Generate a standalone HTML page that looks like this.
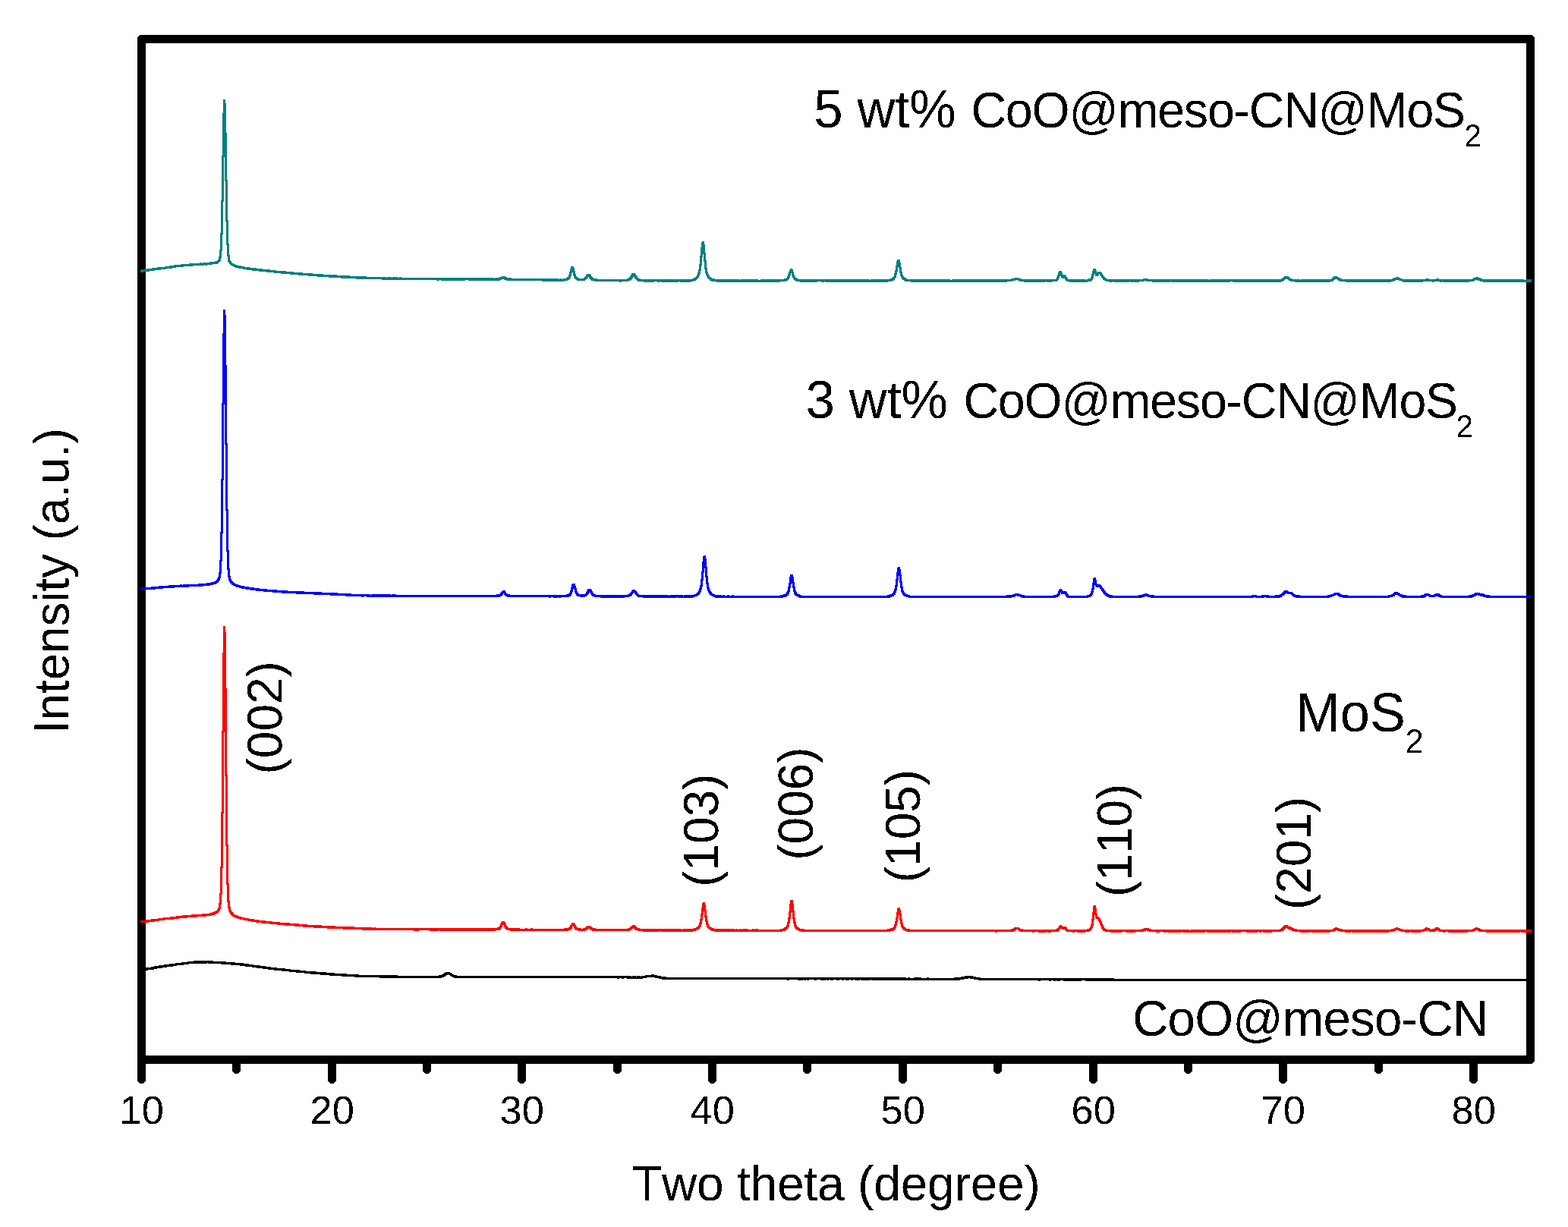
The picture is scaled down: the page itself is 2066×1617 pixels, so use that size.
<!DOCTYPE html>
<html lang="en">
<head>
<meta charset="utf-8">
<title>XRD patterns</title>
<style>
html,body{margin:0;padding:0;background:#fff;}
body{width:2066px;height:1617px;overflow:hidden;}
svg{display:block;}
text{font-family:"Liberation Sans", Arial, Helvetica, sans-serif;fill:#000;font-kerning:none;font-variant-ligatures:none;white-space:pre;}
</style>
</head>
<body>
<svg width="2066" height="1617" viewBox="0 0 2066 1617" role="img" aria-label="XRD patterns of CoO@meso-CN, MoS2 and CoO@meso-CN@MoS2 composites">
<defs>
<filter id="alias" filterUnits="userSpaceOnUse" x="0" y="0" width="2066" height="1617" color-interpolation-filters="sRGB">
<feComponentTransfer><feFuncA type="discrete" tableValues="0 1"/></feComponentTransfer>
</filter>
</defs>
<rect x="0" y="0" width="2066" height="1617" fill="#fff"/>

<g id="frame" fill="none" stroke="#000" stroke-width="11.0" stroke-linecap="round" stroke-linejoin="round">
<rect x="186.5" y="51.5" width="1830.0" height="1345.0" shape-rendering="crispEdges"/>
<line x1="186.5" y1="1396.5" x2="186.5" y2="1422.5" shape-rendering="crispEdges"/>
<line x1="311.5" y1="1396.5" x2="311.5" y2="1409.5" shape-rendering="crispEdges"/>
<line x1="437.5" y1="1396.5" x2="437.5" y2="1422.5" shape-rendering="crispEdges"/>
<line x1="562.5" y1="1396.5" x2="562.5" y2="1409.5" shape-rendering="crispEdges"/>
<line x1="687.5" y1="1396.5" x2="687.5" y2="1422.5" shape-rendering="crispEdges"/>
<line x1="813.5" y1="1396.5" x2="813.5" y2="1409.5" shape-rendering="crispEdges"/>
<line x1="938.5" y1="1396.5" x2="938.5" y2="1422.5" shape-rendering="crispEdges"/>
<line x1="1063.5" y1="1396.5" x2="1063.5" y2="1409.5" shape-rendering="crispEdges"/>
<line x1="1189.5" y1="1396.5" x2="1189.5" y2="1422.5" shape-rendering="crispEdges"/>
<line x1="1314.5" y1="1396.5" x2="1314.5" y2="1409.5" shape-rendering="crispEdges"/>
<line x1="1440.5" y1="1396.5" x2="1440.5" y2="1422.5" shape-rendering="crispEdges"/>
<line x1="1565.5" y1="1396.5" x2="1565.5" y2="1409.5" shape-rendering="crispEdges"/>
<line x1="1690.5" y1="1396.5" x2="1690.5" y2="1422.5" shape-rendering="crispEdges"/>
<line x1="1816.5" y1="1396.5" x2="1816.5" y2="1409.5" shape-rendering="crispEdges"/>
<line x1="1941.5" y1="1396.5" x2="1941.5" y2="1422.5" shape-rendering="crispEdges"/>
</g>
<g id="curves" stroke="none" shape-rendering="crispEdges">
<path fill="#000000" d="M185 1277h1v3h-1zM186 1276h4v4h-4zM190 1276h2v3h-2zM192 1275h3v4h-3zM195 1275h4v3h-4zM199 1274h4v4h-4zM203 1273h4v4h-4zM207 1273h2v3h-2zM209 1272h5v4h-5zM214 1272h2v3h-2zM216 1271h4v4h-4zM220 1271h3v3h-3zM223 1270h5v4h-5zM228 1270h3v3h-3zM231 1269h2v4h-2zM233 1269h6v3h-6zM239 1268h3v4h-3zM242 1268h5v3h-5zM247 1267h2v4h-2zM249 1267h6v3h-6zM255 1266h18v4h-18zM273 1266h1v3h-1zM274 1266h7v4h-7zM281 1267h10v3h-10zM291 1267h7v4h-7zM298 1268h6v3h-6zM304 1268h6v4h-6zM310 1269h6v3h-6zM316 1269h5v4h-5zM321 1270h2v3h-2zM323 1270h5v4h-5zM328 1271h4v3h-4zM332 1271h2v4h-2zM334 1272h4v3h-4zM338 1272h5v4h-5zM343 1273h3v3h-3zM346 1273h4v4h-4zM350 1274h3v3h-3zM353 1274h4v4h-4zM357 1275h4v3h-4zM361 1275h4v4h-4zM365 1276h6v3h-6zM371 1276h5v4h-5zM376 1277h5v3h-5zM381 1277h2v4h-2zM383 1278h7v3h-7zM390 1278h5v4h-5zM395 1279h6v3h-6zM401 1279h2v4h-2zM403 1280h6v3h-6zM409 1280h8v4h-8zM417 1281h5v3h-5zM422 1281h8v4h-8zM430 1282h4v3h-4zM434 1282h7v4h-7zM441 1283h9v3h-9zM450 1283h7v4h-7zM457 1284h10v3h-10zM467 1284h6v4h-6zM473 1285h27v3h-27zM500 1285h24v4h-24zM524 1286h54v3h-54zM578 1285h4v4h-4zM582 1284h2v4h-2zM584 1283h1v5h-1zM585 1282h2v5h-2zM587 1281h1v5h-1zM588 1281h2v4h-2zM590 1281h1v3h-1zM591 1281h2v4h-2zM593 1282h1v4h-1zM594 1282h1v5h-1zM595 1283h1v4h-1zM596 1284h2v4h-2zM598 1285h4v4h-4zM602 1286h211v3h-211zM813 1286h3v4h-3zM816 1286h3v3h-3zM819 1286h3v4h-3zM822 1286h4v3h-4zM826 1286h6v4h-6zM832 1287h1v3h-1zM833 1286h5v4h-5zM838 1287h1v3h-1zM839 1286h5v4h-5zM844 1287h1v3h-1zM845 1286h2v4h-2zM847 1286h3v3h-3zM850 1285h2v4h-2zM852 1285h6v3h-6zM858 1284h4v4h-4zM862 1285h1v3h-1zM863 1285h3v4h-3zM866 1286h2v3h-2zM868 1286h3v4h-3zM871 1287h1v3h-1zM872 1287h6v4h-6zM878 1288h159v3h-159zM1037 1288h3v4h-3zM1040 1288h11v3h-11zM1051 1288h7v4h-7zM1058 1288h1v3h-1zM1059 1288h3v4h-3zM1062 1288h1v3h-1zM1063 1288h3v4h-3zM1066 1288h7v3h-7zM1073 1288h3v4h-3zM1076 1288h5v3h-5zM1081 1288h7v4h-7zM1088 1288h1v3h-1zM1089 1288h3v4h-3zM1092 1288h2v3h-2zM1094 1288h4v4h-4zM1098 1288h4v3h-4zM1102 1288h4v4h-4zM1106 1288h3v3h-3zM1109 1288h3v4h-3zM1112 1288h2v3h-2zM1114 1288h5v4h-5zM1119 1288h2v3h-2zM1121 1288h3v4h-3zM1124 1288h2v3h-2zM1126 1288h7v4h-7zM1133 1288h1v3h-1zM1134 1288h13v4h-13zM1147 1288h1v3h-1zM1148 1288h46v4h-46zM1194 1289h2v3h-2zM1196 1288h3v4h-3zM1199 1289h5v3h-5zM1204 1288h10v4h-10zM1214 1289h7v3h-7zM1221 1288h3v4h-3zM1224 1289h33v3h-33zM1257 1288h8v4h-8zM1265 1288h1v3h-1zM1266 1287h4v4h-4zM1270 1287h1v3h-1zM1271 1286h5v4h-5zM1276 1286h2v3h-2zM1278 1286h4v4h-4zM1282 1287h1v3h-1zM1283 1287h3v4h-3zM1286 1288h3v3h-3zM1289 1288h3v4h-3zM1292 1289h76v3h-76zM1368 1289h3v4h-3zM1371 1289h11v3h-11zM1382 1289h3v4h-3zM1385 1289h3v3h-3zM1388 1289h3v4h-3zM1391 1289h1v3h-1zM1392 1289h5v4h-5zM1397 1289h4v3h-4zM1401 1289h24v4h-24zM1425 1289h5v3h-5zM1430 1289h38v4h-38zM1468 1290h550v3h-550z"/>
<path fill="#ff0000" d="M185 1213h6v3h-6zM191 1212h5v4h-5zM196 1212h3v3h-3zM199 1211h5v4h-5zM204 1211h4v3h-4zM208 1210h2v4h-2zM210 1210h5v3h-5zM215 1209h2v4h-2zM217 1209h7v3h-7zM224 1208h5v4h-5zM229 1208h3v3h-3zM232 1207h4v4h-4zM236 1207h4v3h-4zM240 1206h7v4h-7zM247 1206h5v3h-5zM252 1205h7v4h-7zM259 1205h7v3h-7zM266 1204h6v4h-6zM272 1204h4v3h-4zM276 1203h3v4h-3zM279 1202h3v4h-3zM282 1201h1v5h-1zM283 1201h1v4h-1zM284 1200h1v5h-1zM285 1200h1v4h-1zM286 1198h1v6h-1zM287 1196h1v7h-1zM288 1190h1v12h-1zM289 1177h1v23h-1zM290 1142h1v56h-1zM291 1070h1v122h-1zM292 963h1v216h-1zM293 860h1v284h-1zM294 825h1v247h-1zM295 825h1v140h-1zM296 825h1v198h-1zM297 833h1v282h-1zM298 907h1v259h-1zM299 1021h1v168h-1zM300 1113h1v84h-1zM301 1164h1v37h-1zM302 1187h1v16h-1zM303 1195h1v10h-1zM304 1199h1v7h-1zM305 1201h1v6h-1zM306 1202h1v6h-1zM307 1203h1v5h-1zM308 1205h2v4h-2zM310 1206h3v4h-3zM313 1207h2v4h-2zM315 1208h1v3h-1zM316 1208h3v4h-3zM319 1209h2v3h-2zM321 1209h2v4h-2zM323 1210h3v3h-3zM326 1210h2v4h-2zM328 1211h3v3h-3zM331 1211h4v4h-4zM335 1212h2v3h-2zM337 1212h4v4h-4zM341 1213h4v3h-4zM345 1213h5v4h-5zM350 1214h5v3h-5zM355 1214h4v4h-4zM359 1215h6v3h-6zM365 1215h4v4h-4zM369 1216h6v3h-6zM375 1216h7v4h-7zM382 1217h6v3h-6zM388 1217h6v4h-6zM394 1218h5v3h-5zM399 1218h6v4h-6zM405 1219h8v3h-8zM413 1219h11v4h-11zM424 1220h7v3h-7zM431 1220h11v4h-11zM442 1221h10v3h-10zM452 1221h15v4h-15zM467 1222h10v3h-10zM477 1222h14v4h-14zM491 1223h1v3h-1zM492 1222h3v4h-3zM495 1223h50v3h-50zM545 1223h7v4h-7zM552 1223h14v3h-14zM566 1223h12v4h-12zM578 1223h1v3h-1zM579 1223h74v4h-74zM653 1223h2v3h-2zM655 1222h2v4h-2zM657 1221h1v5h-1zM658 1220h1v6h-1zM659 1217h1v8h-1zM660 1215h1v8h-1zM661 1214h1v8h-1zM662 1214h2v5h-2zM664 1214h1v8h-1zM665 1215h1v9h-1zM666 1217h1v8h-1zM667 1220h1v5h-1zM668 1221h1v5h-1zM669 1222h1v4h-1zM670 1223h2v3h-2zM672 1223h13v4h-13zM685 1224h7v3h-7zM692 1223h3v4h-3zM695 1224h4v3h-4zM699 1223h3v4h-3zM702 1224h41v3h-41zM743 1223h6v4h-6zM749 1222h1v4h-1zM750 1221h1v5h-1zM751 1219h1v7h-1zM752 1218h1v7h-1zM753 1216h1v8h-1zM754 1216h2v5h-2zM756 1216h1v7h-1zM757 1217h1v8h-1zM758 1219h1v7h-1zM759 1221h1v5h-1zM760 1222h1v4h-1zM761 1223h1v3h-1zM762 1223h4v4h-4zM766 1224h2v3h-2zM768 1223h3v4h-3zM771 1222h1v4h-1zM772 1221h1v5h-1zM773 1220h1v6h-1zM774 1220h1v5h-1zM775 1220h2v4h-2zM777 1220h1v5h-1zM778 1221h2v5h-2zM780 1222h1v5h-1zM781 1223h4v4h-4zM785 1224h42v3h-42zM827 1223h3v4h-3zM830 1221h2v5h-2zM832 1220h1v5h-1zM833 1219h1v5h-1zM834 1219h1v4h-1zM835 1219h1v5h-1zM836 1219h1v6h-1zM837 1220h1v6h-1zM838 1221h1v5h-1zM839 1222h1v4h-1zM840 1223h3v4h-3zM843 1224h4v3h-4zM847 1224h22v4h-22zM869 1224h1v3h-1zM870 1224h28v4h-28zM898 1225h1v3h-1zM899 1224h14v4h-14zM913 1224h1v3h-1zM914 1223h3v4h-3zM917 1222h1v4h-1zM918 1221h1v5h-1zM919 1221h1v4h-1zM920 1219h1v6h-1zM921 1216h1v8h-1zM922 1211h1v12h-1zM923 1204h1v17h-1zM924 1196h1v22h-1zM925 1190h1v23h-1zM926 1189h1v17h-1zM927 1189h1v12h-1zM928 1189h1v20h-1zM929 1192h1v23h-1zM930 1199h1v20h-1zM931 1207h1v15h-1zM932 1213h1v10h-1zM933 1217h1v7h-1zM934 1220h1v5h-1zM935 1221h1v4h-1zM936 1222h1v4h-1zM937 1222h1v5h-1zM938 1223h3v4h-3zM941 1224h1v3h-1zM942 1224h26v4h-26zM968 1225h1v3h-1zM969 1224h3v4h-3zM972 1225h2v3h-2zM974 1224h3v4h-3zM977 1225h1v3h-1zM978 1224h8v4h-8zM986 1225h5v3h-5zM991 1224h3v4h-3zM994 1225h1v3h-1zM995 1224h4v4h-4zM999 1225h29v3h-29zM1028 1224h3v4h-3zM1031 1224h1v3h-1zM1032 1223h1v4h-1zM1033 1222h2v5h-2zM1035 1221h1v5h-1zM1036 1219h1v6h-1zM1037 1215h1v10h-1zM1038 1209h1v14h-1zM1039 1201h1v20h-1zM1040 1191h1v26h-1zM1041 1186h1v25h-1zM1042 1186h1v17h-1zM1043 1186h1v16h-1zM1044 1186h1v25h-1zM1045 1191h1v26h-1zM1046 1200h1v21h-1zM1047 1209h1v14h-1zM1048 1215h1v10h-1zM1049 1219h1v6h-1zM1050 1221h1v5h-1zM1051 1222h1v4h-1zM1052 1222h1v5h-1zM1053 1223h1v4h-1zM1054 1224h1v3h-1zM1055 1224h5v4h-5zM1060 1225h109v3h-109zM1169 1224h4v4h-4zM1173 1223h3v4h-3zM1176 1222h1v5h-1zM1177 1221h1v5h-1zM1178 1218h1v8h-1zM1179 1214h1v11h-1zM1180 1209h1v14h-1zM1181 1202h1v18h-1zM1182 1197h1v19h-1zM1183 1196h1v15h-1zM1184 1196h1v10h-1zM1185 1196h1v17h-1zM1186 1199h1v19h-1zM1187 1204h1v18h-1zM1188 1211h1v12h-1zM1189 1216h1v9h-1zM1190 1220h1v6h-1zM1191 1221h1v5h-1zM1192 1222h1v5h-1zM1193 1223h1v4h-1zM1194 1224h1v3h-1zM1195 1224h4v4h-4zM1199 1225h112v3h-112zM1311 1225h3v4h-3zM1314 1225h18v3h-18zM1332 1224h3v4h-3zM1335 1223h1v5h-1zM1336 1222h2v5h-2zM1338 1222h1v4h-1zM1339 1222h2v3h-2zM1341 1222h1v4h-1zM1342 1222h1v5h-1zM1343 1223h1v4h-1zM1344 1224h4v4h-4zM1348 1225h12v3h-12zM1360 1225h3v4h-3zM1363 1225h5v3h-5zM1368 1225h11v4h-11zM1379 1225h1v3h-1zM1380 1225h5v4h-5zM1385 1225h6v3h-6zM1391 1224h2v4h-2zM1393 1223h1v5h-1zM1394 1222h1v6h-1zM1395 1220h1v7h-1zM1396 1219h1v6h-1zM1397 1219h2v5h-2zM1399 1220h1v5h-1zM1400 1221h3v4h-3zM1403 1221h1v5h-1zM1404 1221h1v6h-1zM1405 1222h1v6h-1zM1406 1224h1v4h-1zM1407 1225h6v3h-6zM1413 1225h3v4h-3zM1416 1225h3v3h-3zM1419 1225h11v4h-11zM1430 1225h2v3h-2zM1432 1224h3v4h-3zM1435 1223h1v4h-1zM1436 1221h1v6h-1zM1437 1218h1v8h-1zM1438 1211h1v14h-1zM1439 1202h1v21h-1zM1440 1194h1v26h-1zM1441 1193h1v20h-1zM1442 1193h1v13h-1zM1443 1193h1v17h-1zM1444 1197h1v14h-1zM1445 1204h1v7h-1zM1446 1208h1v4h-1zM1447 1208h1v6h-1zM1448 1209h1v7h-1zM1449 1210h1v9h-1zM1450 1212h1v9h-1zM1451 1214h1v10h-1zM1452 1217h1v8h-1zM1453 1219h1v8h-1zM1454 1221h1v6h-1zM1455 1223h1v4h-1zM1456 1224h2v4h-2zM1458 1225h5v3h-5zM1463 1225h15v4h-15zM1478 1225h6v3h-6zM1484 1225h12v4h-12zM1496 1225h8v3h-8zM1504 1224h3v4h-3zM1507 1223h3v4h-3zM1510 1223h1v3h-1zM1511 1223h3v4h-3zM1514 1224h3v4h-3zM1517 1225h6v3h-6zM1523 1225h5v4h-5zM1528 1225h5v3h-5zM1533 1225h4v4h-4zM1537 1225h1v3h-1zM1538 1225h19v4h-19zM1557 1225h1v3h-1zM1558 1225h9v4h-9zM1567 1226h1v3h-1zM1568 1225h20v4h-20zM1588 1225h2v3h-2zM1590 1225h32v4h-32zM1622 1225h1v3h-1zM1623 1225h12v4h-12zM1635 1225h7v3h-7zM1642 1225h15v4h-15zM1657 1225h2v3h-2zM1659 1225h3v4h-3zM1662 1225h2v3h-2zM1664 1225h12v4h-12zM1676 1225h10v3h-10zM1686 1224h2v4h-2zM1688 1223h1v4h-1zM1689 1222h1v5h-1zM1690 1221h1v6h-1zM1691 1220h1v6h-1zM1692 1219h1v6h-1zM1693 1219h1v5h-1zM1694 1219h2v4h-2zM1696 1219h1v5h-1zM1697 1220h1v5h-1zM1698 1221h2v4h-2zM1700 1221h1v5h-1zM1701 1222h1v4h-1zM1702 1222h1v5h-1zM1703 1223h2v4h-2zM1705 1224h1v3h-1zM1706 1224h3v4h-3zM1709 1225h4v3h-4zM1713 1225h13v4h-13zM1726 1225h1v3h-1zM1727 1225h25v4h-25zM1752 1225h4v3h-4zM1756 1224h1v4h-1zM1757 1223h1v5h-1zM1758 1223h1v4h-1zM1759 1222h1v5h-1zM1760 1222h2v4h-2zM1762 1223h3v4h-3zM1765 1224h1v3h-1zM1766 1224h3v4h-3zM1769 1225h3v3h-3zM1772 1225h8v4h-8zM1780 1225h1v3h-1zM1781 1225h49v4h-49zM1830 1225h3v3h-3zM1833 1224h4v4h-4zM1837 1223h2v4h-2zM1839 1222h3v4h-3zM1842 1223h1v3h-1zM1843 1223h2v4h-2zM1845 1224h1v3h-1zM1846 1224h2v4h-2zM1848 1225h3v3h-3zM1851 1225h7v4h-7zM1858 1225h1v3h-1zM1859 1225h13v4h-13zM1872 1225h3v3h-3zM1875 1224h2v4h-2zM1877 1223h1v4h-1zM1878 1222h2v5h-2zM1880 1222h1v4h-1zM1881 1223h1v3h-1zM1882 1223h1v4h-1zM1883 1223h1v5h-1zM1884 1224h1v4h-1zM1885 1225h1v3h-1zM1886 1224h4v4h-4zM1890 1223h1v5h-1zM1891 1222h2v5h-2zM1893 1222h2v4h-2zM1895 1222h1v5h-1zM1896 1223h1v5h-1zM1897 1224h1v4h-1zM1898 1225h3v3h-3zM1901 1225h3v4h-3zM1904 1225h4v3h-4zM1908 1225h26v4h-26zM1934 1225h6v3h-6zM1940 1224h2v4h-2zM1942 1223h2v4h-2zM1944 1222h3v4h-3zM1947 1223h2v4h-2zM1949 1223h1v5h-1zM1950 1224h2v4h-2zM1952 1225h6v3h-6zM1958 1225h45v4h-45zM2003 1225h1v3h-1zM2004 1225h14v4h-14z"/>
<path fill="#0000ff" d="M185 774h1v3h-1zM186 774h6v4h-6zM192 774h7v3h-7zM199 773h6v4h-6zM205 773h4v3h-4zM209 772h6v4h-6zM215 772h7v3h-7zM222 771h8v4h-8zM230 771h7v3h-7zM237 770h3v4h-3zM240 771h1v3h-1zM241 770h8v4h-8zM249 770h12v3h-12zM261 769h7v4h-7zM268 769h4v3h-4zM272 768h5v4h-5zM277 768h1v3h-1zM278 767h3v4h-3zM281 767h1v3h-1zM282 766h2v4h-2zM284 765h1v5h-1zM285 764h1v5h-1zM286 762h1v6h-1zM287 760h1v8h-1zM288 754h1v12h-1zM289 738h1v27h-1zM290 701h1v61h-1zM291 631h1v125h-1zM292 531h1v209h-1zM293 439h1v264h-1zM294 408h1v225h-1zM295 408h1v125h-1zM296 408h1v178h-1zM297 415h1v258h-1zM298 481h1v246h-1zM299 584h1v167h-1zM300 671h1v90h-1zM301 725h1v40h-1zM302 749h1v18h-1zM303 759h1v10h-1zM304 763h1v6h-1zM305 765h1v6h-1zM306 766h1v5h-1zM307 767h1v5h-1zM308 768h1v4h-1zM309 769h2v4h-2zM311 770h3v4h-3zM314 771h1v3h-1zM315 771h2v4h-2zM317 772h1v3h-1zM318 772h4v4h-4zM322 773h2v3h-2zM324 773h4v4h-4zM328 774h2v3h-2zM330 774h5v4h-5zM335 775h2v3h-2zM337 775h5v4h-5zM342 776h5v3h-5zM347 776h5v4h-5zM352 777h7v3h-7zM359 777h6v4h-6zM365 778h6v3h-6zM371 778h8v4h-8zM379 779h11v3h-11zM390 779h11v4h-11zM401 780h12v3h-12zM413 780h11v4h-11zM424 781h11v3h-11zM435 781h10v4h-10zM445 782h10v3h-10zM455 782h8v4h-8zM463 783h13v3h-13zM476 783h3v4h-3zM479 783h4v3h-4zM483 783h5v4h-5zM488 784h1v3h-1zM489 783h26v4h-26zM515 784h1v3h-1zM516 783h6v4h-6zM522 784h132v3h-132zM654 783h5v4h-5zM659 781h1v5h-1zM660 780h1v6h-1zM661 779h1v6h-1zM662 778h1v6h-1zM663 778h1v4h-1zM664 778h1v6h-1zM665 778h1v7h-1zM666 780h1v6h-1zM667 782h1v4h-1zM668 782h1v5h-1zM669 783h3v4h-3zM672 784h51v3h-51zM723 784h3v4h-3zM726 784h3v3h-3zM729 784h6v4h-6zM735 784h1v3h-1zM736 784h3v4h-3zM739 784h7v3h-7zM746 783h3v4h-3zM749 782h1v5h-1zM750 781h1v5h-1zM751 778h1v8h-1zM752 774h1v11h-1zM753 770h1v13h-1zM754 769h1v11h-1zM755 769h1v7h-1zM756 769h1v8h-1zM757 769h1v12h-1zM758 772h1v11h-1zM759 775h1v10h-1zM760 779h1v7h-1zM761 781h1v5h-1zM762 782h1v4h-1zM763 783h1v3h-1zM764 783h7v4h-7zM771 782h1v4h-1zM772 780h1v6h-1zM773 778h1v7h-1zM774 776h1v8h-1zM775 776h1v7h-1zM776 776h2v5h-2zM778 776h1v7h-1zM779 777h1v8h-1zM780 779h1v7h-1zM781 781h1v5h-1zM782 782h1v4h-1zM783 783h2v4h-2zM785 784h6v3h-6zM791 784h32v4h-32zM823 784h4v3h-4zM827 783h2v4h-2zM829 782h1v4h-1zM830 781h1v5h-1zM831 780h1v6h-1zM832 778h1v7h-1zM833 777h1v6h-1zM834 777h1v5h-1zM835 777h1v4h-1zM836 777h1v6h-1zM837 778h1v6h-1zM838 779h1v6h-1zM839 780h1v6h-1zM840 782h1v5h-1zM841 783h1v4h-1zM842 784h5v3h-5zM847 784h34v4h-34zM881 785h1v3h-1zM882 784h10v4h-10zM892 784h1v3h-1zM893 784h7v4h-7zM900 785h1v3h-1zM901 784h12v4h-12zM913 784h1v3h-1zM914 783h2v4h-2zM916 783h1v3h-1zM917 782h1v4h-1zM918 781h1v5h-1zM919 780h1v5h-1zM920 778h1v6h-1zM921 775h1v9h-1zM922 771h1v11h-1zM923 763h1v17h-1zM924 753h1v24h-1zM925 740h1v33h-1zM926 733h1v32h-1zM927 732h1v23h-1zM928 732h1v17h-1zM929 732h1v29h-1zM930 736h1v34h-1zM931 747h1v29h-1zM932 759h1v20h-1zM933 768h1v13h-1zM934 774h1v9h-1zM935 777h1v7h-1zM936 779h1v6h-1zM937 780h1v5h-1zM938 782h2v4h-2zM940 783h2v4h-2zM942 784h9v4h-9zM951 785h1v3h-1zM952 784h3v4h-3zM955 785h3v3h-3zM958 784h3v4h-3zM961 785h3v3h-3zM964 784h3v4h-3zM967 785h61v3h-61zM1028 784h4v4h-4zM1032 783h3v4h-3zM1035 782h1v5h-1zM1036 780h1v6h-1zM1037 778h1v7h-1zM1038 773h1v12h-1zM1039 768h1v15h-1zM1040 760h1v20h-1zM1041 757h1v18h-1zM1042 757h1v13h-1zM1043 757h1v12h-1zM1044 757h1v18h-1zM1045 760h1v20h-1zM1046 767h1v16h-1zM1047 773h1v12h-1zM1048 778h1v7h-1zM1049 780h1v6h-1zM1050 782h1v4h-1zM1051 783h2v4h-2zM1053 783h1v5h-1zM1054 784h2v4h-2zM1056 785h113v3h-113zM1169 784h3v4h-3zM1172 783h1v5h-1zM1173 783h2v4h-2zM1175 782h1v4h-1zM1176 781h1v5h-1zM1177 779h1v7h-1zM1178 776h1v8h-1zM1179 771h1v13h-1zM1180 763h1v18h-1zM1181 754h1v24h-1zM1182 748h1v25h-1zM1183 747h1v18h-1zM1184 747h1v12h-1zM1185 747h1v21h-1zM1186 750h1v25h-1zM1187 757h1v23h-1zM1188 766h1v16h-1zM1189 773h1v11h-1zM1190 778h1v7h-1zM1191 780h1v6h-1zM1192 782h2v4h-2zM1194 783h2v4h-2zM1196 784h1v3h-1zM1197 784h2v4h-2zM1199 785h127v3h-127zM1326 784h7v4h-7zM1333 784h1v3h-1zM1334 783h3v4h-3zM1337 782h2v4h-2zM1339 782h1v3h-1zM1340 782h3v4h-3zM1343 783h1v3h-1zM1344 783h2v4h-2zM1346 784h4v4h-4zM1350 785h38v3h-38zM1388 784h3v4h-3zM1391 784h1v3h-1zM1392 783h1v4h-1zM1393 782h1v5h-1zM1394 779h1v7h-1zM1395 777h1v9h-1zM1396 776h1v8h-1zM1397 776h1v5h-1zM1398 776h1v7h-1zM1399 777h1v6h-1zM1400 779h3v4h-3zM1403 779h1v5h-1zM1404 779h1v7h-1zM1405 780h1v7h-1zM1406 782h1v6h-1zM1407 783h1v5h-1zM1408 785h24v3h-24zM1432 784h2v4h-2zM1434 784h1v3h-1zM1435 783h1v4h-1zM1436 782h1v5h-1zM1437 779h1v7h-1zM1438 775h1v11h-1zM1439 768h1v16h-1zM1440 762h1v19h-1zM1441 761h1v16h-1zM1442 761h1v10h-1zM1443 761h1v12h-1zM1444 764h1v10h-1zM1445 769h1v5h-1zM1446 770h3v4h-3zM1449 770h1v6h-1zM1450 771h1v6h-1zM1451 772h1v7h-1zM1452 774h1v6h-1zM1453 775h1v7h-1zM1454 776h1v7h-1zM1455 778h1v6h-1zM1456 779h1v6h-1zM1457 781h2v5h-2zM1459 782h1v5h-1zM1460 783h1v4h-1zM1461 783h1v5h-1zM1462 784h4v4h-4zM1466 785h34v3h-34zM1500 784h5v4h-5zM1505 783h3v4h-3zM1508 782h4v4h-4zM1512 783h2v4h-2zM1514 784h2v3h-2zM1516 784h5v4h-5zM1521 785h128v3h-128zM1649 784h3v4h-3zM1652 784h2v3h-2zM1654 784h2v4h-2zM1656 785h6v3h-6zM1662 784h4v4h-4zM1666 784h2v3h-2zM1668 784h4v4h-4zM1672 785h8v3h-8zM1680 784h6v4h-6zM1686 783h1v5h-1zM1687 783h1v4h-1zM1688 782h1v5h-1zM1689 781h1v5h-1zM1690 780h1v5h-1zM1691 779h1v6h-1zM1692 778h1v6h-1zM1693 778h1v5h-1zM1694 778h2v4h-2zM1696 778h1v5h-1zM1697 779h1v4h-1zM1698 780h3v3h-3zM1701 780h1v4h-1zM1702 780h1v5h-1zM1703 781h1v5h-1zM1704 782h1v5h-1zM1705 783h2v4h-2zM1707 784h6v4h-6zM1713 785h36v3h-36zM1749 784h3v4h-3zM1752 784h1v3h-1zM1753 783h2v4h-2zM1755 783h1v3h-1zM1756 782h2v4h-2zM1758 781h2v4h-2zM1760 781h2v3h-2zM1762 781h1v4h-1zM1763 781h2v5h-2zM1765 782h1v5h-1zM1766 783h2v4h-2zM1768 784h1v3h-1zM1769 784h7v4h-7zM1776 785h53v3h-53zM1829 784h2v4h-2zM1831 784h2v3h-2zM1833 783h2v4h-2zM1835 782h1v4h-1zM1836 781h1v5h-1zM1837 780h1v6h-1zM1838 780h4v4h-4zM1842 781h1v4h-1zM1843 781h1v5h-1zM1844 782h1v4h-1zM1845 783h2v4h-2zM1847 783h1v5h-1zM1848 784h5v4h-5zM1853 785h19v3h-19zM1872 784h4v4h-4zM1876 783h1v5h-1zM1877 782h2v5h-2zM1879 782h1v4h-1zM1880 782h1v3h-1zM1881 782h2v4h-2zM1883 783h2v4h-2zM1885 784h4v3h-4zM1889 783h2v4h-2zM1891 782h4v4h-4zM1895 782h2v5h-2zM1897 783h1v4h-1zM1898 784h2v4h-2zM1900 785h35v3h-35zM1935 784h4v4h-4zM1939 783h1v5h-1zM1940 783h2v4h-2zM1942 782h1v4h-1zM1943 781h2v5h-2zM1945 781h1v4h-1zM1946 781h1v3h-1zM1947 781h3v4h-3zM1950 782h4v4h-4zM1954 782h1v5h-1zM1955 783h2v4h-2zM1957 784h1v3h-1zM1958 784h5v4h-5zM1963 785h55v3h-55z"/>
<path fill="#008080" d="M185 356h1v3h-1zM186 355h3v4h-3zM189 355h4v3h-4zM193 354h4v4h-4zM197 354h3v3h-3zM200 353h4v4h-4zM204 353h3v3h-3zM207 352h5v4h-5zM212 352h5v3h-5zM217 351h2v4h-2zM219 351h4v3h-4zM223 350h4v4h-4zM227 350h2v3h-2zM229 349h3v4h-3zM232 349h6v3h-6zM238 348h4v4h-4zM242 348h7v3h-7zM249 347h5v4h-5zM254 347h9v3h-9zM263 346h3v4h-3zM266 347h1v3h-1zM267 346h2v4h-2zM269 346h1v3h-1zM270 346h3v4h-3zM273 346h3v3h-3zM276 345h4v4h-4zM280 345h3v3h-3zM283 344h3v4h-3zM286 343h1v5h-1zM287 342h1v5h-1zM288 338h1v8h-1zM289 329h1v16h-1zM290 307h1v37h-1zM291 264h1v76h-1zM292 205h1v126h-1zM293 149h1v160h-1zM294 131h1v135h-1zM295 131h1v76h-1zM296 131h1v108h-1zM297 136h1v156h-1zM298 175h1v148h-1zM299 237h1v101h-1zM300 290h1v55h-1zM301 321h1v25h-1zM302 336h1v12h-1zM303 343h1v6h-1zM304 344h1v6h-1zM305 346h1v4h-1zM306 347h2v4h-2zM308 348h2v4h-2zM310 349h3v4h-3zM313 350h1v3h-1zM314 350h4v4h-4zM318 351h2v3h-2zM320 351h2v4h-2zM322 352h3v3h-3zM325 352h5v4h-5zM330 353h2v3h-2zM332 353h6v4h-6zM338 354h3v3h-3zM341 354h5v4h-5zM346 355h5v3h-5zM351 355h5v4h-5zM356 356h5v3h-5zM361 356h3v4h-3zM364 357h6v3h-6zM370 357h7v4h-7zM377 358h5v3h-5zM382 358h5v4h-5zM387 359h6v3h-6zM393 359h6v4h-6zM399 360h7v3h-7zM406 360h6v4h-6zM412 361h6v3h-6zM418 361h8v4h-8zM426 362h7v3h-7zM433 362h11v4h-11zM444 363h5v3h-5zM449 363h12v4h-12zM461 364h8v3h-8zM469 364h14v4h-14zM483 365h20v3h-20zM503 365h6v4h-6zM509 366h1v3h-1zM510 365h6v4h-6zM516 366h1v3h-1zM517 365h7v4h-7zM524 366h2v3h-2zM526 365h3v4h-3zM529 366h46v3h-46zM575 366h4v4h-4zM579 366h2v3h-2zM581 366h32v4h-32zM613 366h4v3h-4zM617 366h34v4h-34zM651 367h1v3h-1zM652 366h6v4h-6zM658 365h1v5h-1zM659 365h2v4h-2zM661 364h3v4h-3zM664 364h2v5h-2zM666 365h1v4h-1zM667 365h1v5h-1zM668 366h6v4h-6zM674 367h40v3h-40zM714 367h22v4h-22zM736 368h1v3h-1zM737 367h3v4h-3zM740 368h1v3h-1zM741 367h3v4h-3zM744 367h2v3h-2zM746 366h1v4h-1zM747 365h1v5h-1zM748 365h1v4h-1zM749 362h1v7h-1zM750 358h1v10h-1zM751 354h1v13h-1zM752 351h1v13h-1zM753 351h1v9h-1zM754 351h1v8h-1zM755 351h1v12h-1zM756 353h1v13h-1zM757 357h1v11h-1zM758 361h1v7h-1zM759 364h1v5h-1zM760 365h1v5h-1zM761 366h2v4h-2zM763 367h6v3h-6zM769 366h1v4h-1zM770 365h1v5h-1zM771 364h1v5h-1zM772 362h1v6h-1zM773 361h1v7h-1zM774 361h1v5h-1zM775 361h1v4h-1zM776 361h1v6h-1zM777 361h1v7h-1zM778 362h1v7h-1zM779 364h1v6h-1zM780 365h1v5h-1zM781 366h1v4h-1zM782 367h1v3h-1zM783 367h4v4h-4zM787 368h29v3h-29zM816 368h3v4h-3zM819 368h7v3h-7zM826 367h2v4h-2zM828 366h1v4h-1zM829 365h1v5h-1zM830 364h1v6h-1zM831 362h1v7h-1zM832 360h1v8h-1zM833 360h1v7h-1zM834 360h2v5h-2zM836 360h1v7h-1zM837 361h1v7h-1zM838 363h1v6h-1zM839 364h1v6h-1zM840 366h1v5h-1zM841 367h3v4h-3zM844 368h4v3h-4zM848 368h14v4h-14zM862 368h4v3h-4zM866 368h4v4h-4zM870 368h1v3h-1zM871 368h23v4h-23zM894 368h2v3h-2zM896 368h14v4h-14zM910 368h2v3h-2zM912 367h2v4h-2zM914 366h2v4h-2zM916 365h1v5h-1zM917 364h1v5h-1zM918 362h1v6h-1zM919 359h1v8h-1zM920 355h1v11h-1zM921 348h1v16h-1zM922 337h1v24h-1zM923 326h1v31h-1zM924 319h1v31h-1zM925 318h1v21h-1zM926 318h1v17h-1zM927 318h1v27h-1zM928 322h1v33h-1zM929 333h1v27h-1zM930 343h1v20h-1zM931 353h1v12h-1zM932 358h1v9h-1zM933 361h1v7h-1zM934 363h1v5h-1zM935 365h2v5h-2zM937 366h1v5h-1zM938 367h4v4h-4zM942 368h2v3h-2zM944 368h30v4h-30zM974 369h1v3h-1zM975 368h24v4h-24zM999 369h3v3h-3zM1002 368h26v4h-26zM1028 368h5v3h-5zM1033 367h3v4h-3zM1036 366h1v4h-1zM1037 364h1v6h-1zM1038 361h1v8h-1zM1039 358h1v10h-1zM1040 356h1v10h-1zM1041 354h1v9h-1zM1042 354h1v6h-1zM1043 354h1v10h-1zM1044 355h1v11h-1zM1045 358h1v10h-1zM1046 362h1v7h-1zM1047 364h1v6h-1zM1048 366h1v4h-1zM1049 366h1v5h-1zM1050 367h2v4h-2zM1052 368h2v3h-2zM1054 368h23v4h-23zM1077 368h5v3h-5zM1082 368h4v4h-4zM1086 368h1v3h-1zM1087 368h59v4h-59zM1146 369h1v3h-1zM1147 368h23v4h-23zM1170 368h2v3h-2zM1172 367h3v4h-3zM1175 366h1v4h-1zM1176 365h1v5h-1zM1177 364h1v6h-1zM1178 360h1v9h-1zM1179 356h1v11h-1zM1180 350h1v16h-1zM1181 344h1v18h-1zM1182 342h1v16h-1zM1183 342h1v10h-1zM1184 342h1v12h-1zM1185 342h1v18h-1zM1186 346h1v18h-1zM1187 352h1v14h-1zM1188 358h1v10h-1zM1189 362h1v7h-1zM1190 364h1v5h-1zM1191 365h1v5h-1zM1192 366h2v5h-2zM1194 367h1v4h-1zM1195 368h5v3h-5zM1200 368h52v4h-52zM1252 369h2v3h-2zM1254 368h73v4h-73zM1327 368h5v3h-5zM1332 367h2v4h-2zM1334 367h2v3h-2zM1336 366h2v4h-2zM1338 366h3v3h-3zM1341 366h2v4h-2zM1343 367h3v4h-3zM1346 368h3v3h-3zM1349 368h29v4h-29zM1378 368h1v3h-1zM1379 368h7v4h-7zM1386 368h5v3h-5zM1391 367h1v4h-1zM1392 365h1v6h-1zM1393 362h1v8h-1zM1394 359h1v10h-1zM1395 357h1v10h-1zM1396 357h2v7h-2zM1398 357h1v9h-1zM1399 359h1v8h-1zM1400 362h3v5h-3zM1403 362h1v7h-1zM1404 363h1v7h-1zM1405 365h1v6h-1zM1406 366h1v5h-1zM1407 368h2v3h-2zM1409 368h21v4h-21zM1430 369h1v3h-1zM1431 368h2v4h-2zM1433 368h1v3h-1zM1434 367h3v4h-3zM1437 365h1v6h-1zM1438 361h1v9h-1zM1439 357h1v12h-1zM1440 354h1v13h-1zM1441 354h1v9h-1zM1442 354h1v7h-1zM1443 354h1v10h-1zM1444 356h1v8h-1zM1445 359h1v5h-1zM1446 358h1v6h-1zM1447 358h1v5h-1zM1448 358h1v3h-1zM1449 358h1v5h-1zM1450 358h1v6h-1zM1451 359h1v7h-1zM1452 361h1v6h-1zM1453 362h1v7h-1zM1454 364h1v5h-1zM1455 365h1v5h-1zM1456 366h1v4h-1zM1457 367h2v4h-2zM1459 368h2v3h-2zM1461 368h5v4h-5zM1466 368h1v3h-1zM1467 368h21v4h-21zM1488 368h1v3h-1zM1489 368h12v4h-12zM1501 368h5v3h-5zM1506 367h2v4h-2zM1508 367h2v3h-2zM1510 367h3v4h-3zM1513 368h5v3h-5zM1518 368h24v4h-24zM1542 368h1v3h-1zM1543 368h50v4h-50zM1593 369h1v3h-1zM1594 368h27v4h-27zM1621 368h3v3h-3zM1624 368h64v4h-64zM1688 367h2v4h-2zM1690 366h1v5h-1zM1691 365h1v5h-1zM1692 364h1v5h-1zM1693 364h4v4h-4zM1697 364h1v5h-1zM1698 365h1v5h-1zM1699 366h1v4h-1zM1700 367h3v4h-3zM1703 368h3v3h-3zM1706 368h7v4h-7zM1713 369h1v3h-1zM1714 368h39v4h-39zM1753 368h1v3h-1zM1754 367h1v4h-1zM1755 366h1v5h-1zM1756 365h1v6h-1zM1757 364h2v5h-2zM1759 364h3v4h-3zM1762 365h1v4h-1zM1763 365h1v5h-1zM1764 366h1v4h-1zM1765 366h1v5h-1zM1766 367h2v4h-2zM1768 368h5v3h-5zM1773 368h60v4h-60zM1833 368h1v3h-1zM1834 367h2v4h-2zM1836 366h1v5h-1zM1837 366h2v4h-2zM1839 365h4v4h-4zM1843 366h2v4h-2zM1845 367h1v3h-1zM1846 367h2v4h-2zM1848 368h1v3h-1zM1849 368h26v4h-26zM1875 368h3v3h-3zM1878 367h5v4h-5zM1883 368h4v3h-4zM1887 368h3v4h-3zM1890 368h2v3h-2zM1892 367h4v4h-4zM1896 368h1v3h-1zM1897 368h3v4h-3zM1900 368h1v3h-1zM1901 368h35v4h-35zM1936 368h4v3h-4zM1940 367h1v4h-1zM1941 366h1v5h-1zM1942 366h2v4h-2zM1944 365h3v4h-3zM1947 365h1v5h-1zM1948 366h2v4h-2zM1950 366h1v5h-1zM1951 367h2v4h-2zM1953 368h1v3h-1zM1954 368h54v4h-54zM2008 369h2v3h-2zM2010 368h8v4h-8z"/>
</g>
<g id="labels" filter="url(#alias)">
<text id="t10" x="186.7" y="1480.5" font-size="52.4" text-anchor="middle">10</text>
<text id="t20" x="437.7" y="1480.5" font-size="52.4" text-anchor="middle">20</text>
<text id="t30" x="687.7" y="1480.5" font-size="52.4" text-anchor="middle">30</text>
<text id="t40" x="938.7" y="1480.5" font-size="52.4" text-anchor="middle">40</text>
<text id="t50" x="1189.7" y="1480.5" font-size="52.4" text-anchor="middle">50</text>
<text id="t60" x="1440.7" y="1480.5" font-size="52.4" text-anchor="middle">60</text>
<text id="t70" x="1690.7" y="1480.5" font-size="52.4" text-anchor="middle">70</text>
<text id="t80" x="1941.7" y="1480.5" font-size="52.4" text-anchor="middle">80</text>
<text id="xlabel" x="833" y="1582" font-size="64" letter-spacing="-0.17">Two theta (degree)</text>
<text id="ylabel" transform="translate(90.5 967) rotate(-90)" font-size="64" letter-spacing="-0.16">Intensity (a.u.)</text>
<text id="h002" transform="translate(371.5 1020.5) rotate(-90) scale(1 1.02)" font-size="64">(002)</text>
<text id="h103" transform="translate(946.4 1168.9) rotate(-90) scale(1 1.02)" font-size="64">(103)</text>
<text id="h006" transform="translate(1070.9 1133.7) rotate(-90) scale(1 1.02)" font-size="64">(006)</text>
<text id="h105" transform="translate(1212.3 1163.3) rotate(-90) scale(1 1.02)" font-size="64">(105)</text>
<text id="h110" transform="translate(1491.0 1182.1) rotate(-90) scale(1 1.02)" font-size="64">(110)</text>
<text id="h201" transform="translate(1727.2 1199.2) rotate(-90) scale(1 1.02)" font-size="64">(201)</text>
<text id="l5" transform="scale(1 1.03)"><tspan id="l5a" x="1072.2" y="163.01" font-size="69.0" letter-spacing="-0.1">5 wt% </tspan><tspan id="l5b" x="1279.4" y="163.01" font-size="64.5" letter-spacing="-1.2">CoO@meso-CN@MoS</tspan><tspan id="l5s" x="1929.5" y="187.28" font-size="40.5">2</tspan></text>
<text id="l3" transform="scale(1 1.03)"><tspan id="l3a" x="1061.4" y="534.95" font-size="69.0" letter-spacing="-0.1">3 wt% </tspan><tspan id="l3b" x="1269.4" y="534.95" font-size="64.5" letter-spacing="-1.2">CoO@meso-CN@MoS</tspan><tspan id="l3s" x="1918.6" y="559.22" font-size="40.5">2</tspan></text>
<text id="lmm" transform="scale(1 1.03)"><tspan id="lm" x="1707.0" y="935.83" font-size="70.3" letter-spacing="0.2">MoS</tspan><tspan id="lms" x="1851.6" y="963.01" font-size="43.5">2</tspan></text>
<text id="lcc" transform="scale(1 1.03)"><tspan id="lc" x="1492.2" y="1325.15" font-size="65.5" letter-spacing="-0.86">CoO@meso-CN</tspan></text>
</g>
</svg>
</body>
</html>
